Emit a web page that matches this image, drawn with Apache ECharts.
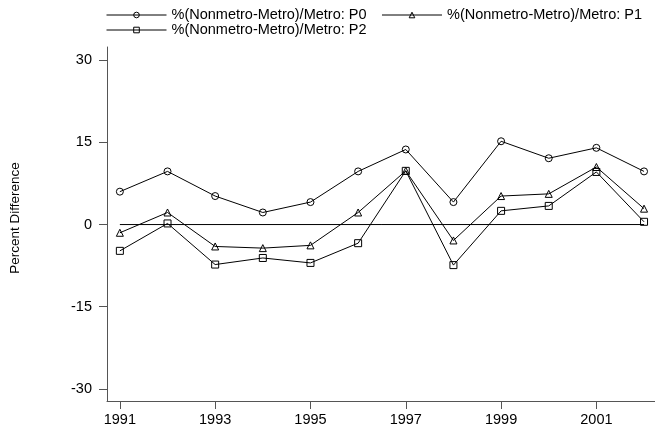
<!DOCTYPE html>
<html>
<head>
<meta charset="utf-8">
<script src="https://cdn.jsdelivr.net/npm/echarts@6/dist/echarts.min.js"></script>
<style>
  html, body { margin: 0; padding: 0; background: #fff; }
  #chart { width: 655px; height: 428px; }
</style>
</head>
<body>
<div id="chart"></div>
<script>
// Nonmetro vs metro poverty measures, percent difference by year
const years = [1991, 1992, 1993, 1994, 1995, 1996, 1997, 1998, 1999, 2000, 2001, 2002];
const p0 = [6.0, 9.7, 5.2, 2.2, 4.1, 9.7, 13.7, 4.1, 15.2, 12.1, 14.0, 9.7];
const p1 = [-1.5, 2.2, -4.0, -4.3, -3.8, 2.2, 9.8, -2.9, 5.2, 5.6, 10.5, 2.9];
const p2 = [-4.8, 0.2, -7.3, -6.1, -7.0, -3.4, 9.8, -7.4, 2.5, 3.4, 9.6, 0.5];
const xTickYears = [1991, 1993, 1995, 1997, 1999, 2001];
const yTicks = [-30, -15, 0, 15, 30];
const seriesNames = [
  '%(Nonmetro-Metro)/Metro: P0',
  '%(Nonmetro-Metro)/Metro: P1',
  '%(Nonmetro-Metro)/Metro: P2'
];

const FONT = '"Liberation Sans", Arial, sans-serif';

function pairs(vals) {
  return years.map((y, i) => [y, vals[i]]);
}

function lineSeries(name, vals, symbol) {
  return {
    name: name,
    type: 'line',
    data: pairs(vals),
    symbol: symbol,
    symbolSize: 7,
    showSymbol: true,
    lineStyle: { color: '#000', width: 1 },
    itemStyle: { color: 'transparent', borderColor: '#000', borderWidth: 1 },
    emphasis: { disabled: true },
    animation: false,
    z: 3
  };
}

const legendCommon = {
  left: 106,
  orient: 'horizontal',
  itemWidth: 60,
  itemHeight: 7,
  itemGap: 15,
  selectedMode: false,
  itemStyle: { color: 'transparent', borderColor: '#000', borderWidth: 1 },
  lineStyle: { color: '#000', width: 1 },
  textStyle: { fontFamily: FONT, fontSize: 14.5, color: '#000', lineHeight: 15 },
  padding: 0
};

const chart = echarts.init(document.getElementById('chart'), null, { renderer: 'canvas' });
chart.setOption({
  animation: false,
  backgroundColor: '#fff',
  legend: [
    Object.assign({}, legendCommon, { top: 7.5, data: [seriesNames[0], seriesNames[1]] }),
    Object.assign({}, legendCommon, { top: 22.5, data: [seriesNames[2]] })
  ],
  grid: { left: 107, right: 0, top: 47, bottom: 27, containLabel: false, outerBoundsMode: 'none' },
  xAxis: {
    type: 'value',
    min: 1990.73,
    max: 2002.23,
    axisLine: { show: true, onZero: false, lineStyle: { color: '#555', width: 1 } },
    axisTick: { show: true, length: 8, customValues: xTickYears, lineStyle: { color: '#555' } },
    axisLabel: {
      customValues: xTickYears,
      margin: 11,
      fontFamily: FONT, fontSize: 14.5, color: '#000',
      formatter: v => String(v)
    },
    splitLine: { show: false }
  },
  yAxis: {
    type: 'value',
    min: -32.2,
    max: 32.4,
    name: 'Percent Difference',
    nameLocation: 'middle',
    nameGap: 85,
    nameTextStyle: { fontFamily: FONT, fontSize: 13.5, color: '#000', padding: [0, 0, 0, 12] },
    axisLine: { show: true, onZero: false, lineStyle: { color: '#555', width: 1 } },
    axisTick: { show: true, length: 8, customValues: yTicks, lineStyle: { color: '#555' } },
    axisLabel: {
      customValues: yTicks,
      margin: 15,
      fontFamily: FONT, fontSize: 14.5, color: '#000',
      formatter: v => String(v)
    },
    splitLine: { show: false }
  },
  series: [
    {
      name: 'zero',
      type: 'line',
      data: [[years[0], 0], [years[years.length - 1], 0]],
      symbol: 'none',
      lineStyle: { color: '#000', width: 1 },
      silent: true,
      animation: false,
      z: 2
    },
    lineSeries(seriesNames[0], p0, 'circle'),
    lineSeries(seriesNames[1], p1, 'triangle'),
    lineSeries(seriesNames[2], p2, 'rect')
  ]
});
</script>
</body>
</html>
